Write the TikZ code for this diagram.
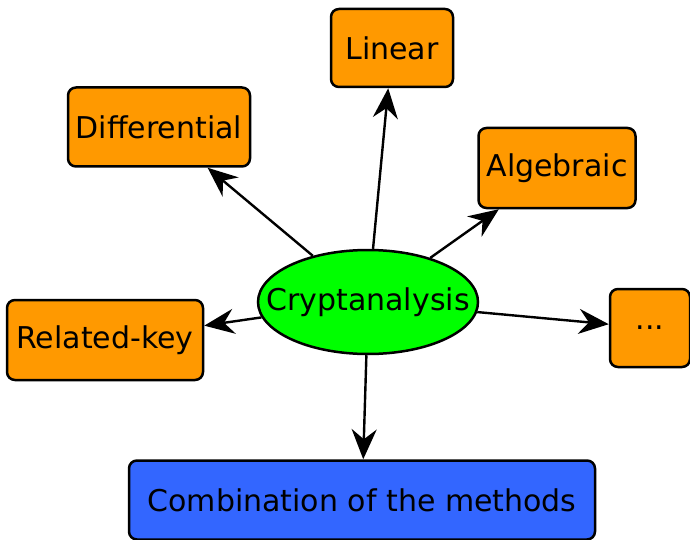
\documentclass[tikz,border=0pt]{standalone}
\usepackage{fontspec}
\setmainfont{DejaVu Sans}
\usetikzlibrary{arrows.meta,shapes.geometric}
\definecolor{boxorange}{RGB}{255,153,0}
\definecolor{boxgreen}{RGB}{0,255,0}
\definecolor{boxblue}{RGB}{51,102,255}
\tikzset{
    method/.style={draw, line width=2.5pt, rounded corners=8pt, fill=boxorange,
        inner sep=0pt, font=\fontsize{30}{36}\selectfont},
    link/.style={line width=2.4pt, -{Stealth[length=30pt, width=25pt, inset=10pt]}}
}
\begin{document}
\begin{tikzpicture}[x=1pt, y=-1pt]
    \useasboundingbox (0,0) rectangle (690,540);
    % Centre
    \node[draw, ellipse, line width=2.5pt, fill=boxgreen, minimum width=220pt, minimum height=104pt,
        inner sep=0pt, font=\fontsize{30}{36}\selectfont] (crypt) at (368,302) {\makebox[140pt]{Cryptanalysis}};
    % Methods
    \node[method, minimum width=122pt, minimum height=78pt] (lin) at (392,48) {Linear};
    \node[method, minimum width=182pt, minimum height=79pt] (diff) at (159,127) {Differential};
    \node[method, minimum width=157pt, minimum height=80pt] (alg) at (557,168) {Algebraic};
    \node[method, minimum width=196pt, minimum height=80pt] (rel) at (105,340) {Related-key};
    \node[method, minimum width=80pt, minimum height=78pt] (more) at (650,328) {...};
    % Combination
    \node[method, fill=boxblue, minimum width=466pt, minimum height=79pt] (comb) at (362,500) {Combination of the methods};
    % Arrows
    \draw[link] (crypt) -- (lin);
    \draw[link] (crypt) -- (diff);
    \draw[link] (crypt) -- (alg);
    \draw[link] (crypt) -- (rel);
    \draw[link] (crypt) -- (more);
    \draw[link] (crypt) -- (comb);
\end{tikzpicture}
\end{document}
